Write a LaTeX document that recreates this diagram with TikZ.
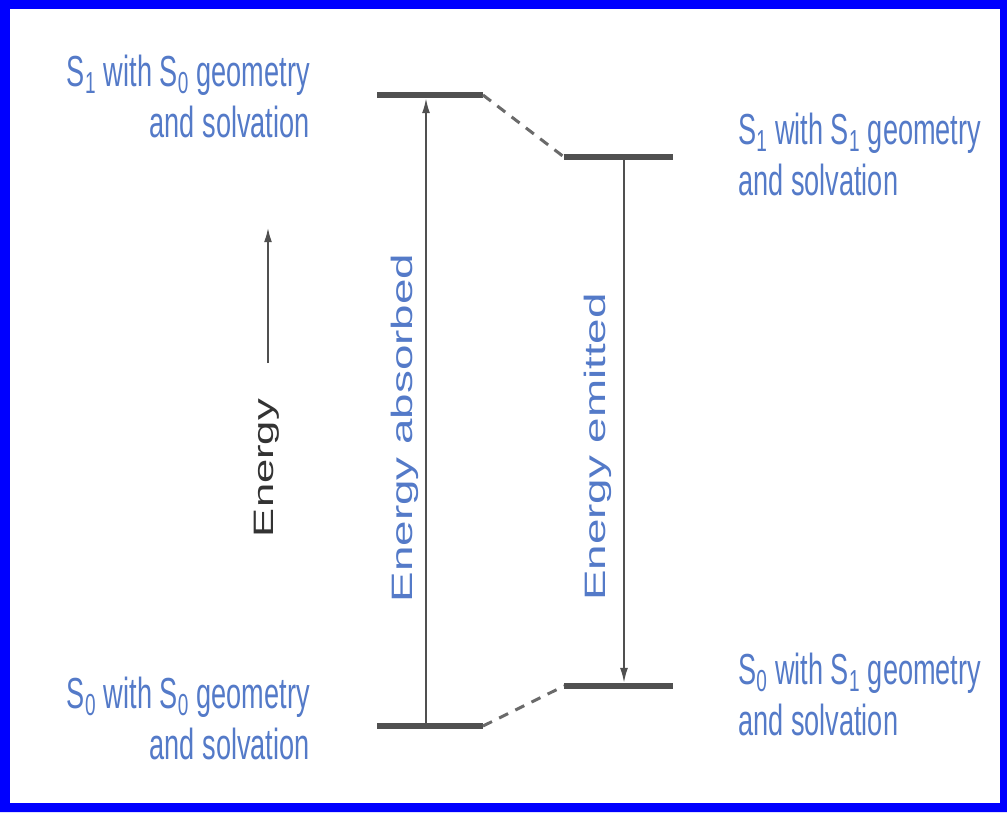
\documentclass[tikz,border=0pt]{standalone}
\usepackage{fontspec}
\setmainfont{Liberation Sans}
\usetikzlibrary{arrows.meta}
\definecolor{lblue}{RGB}{84,122,200}
\definecolor{lvl}{RGB}{80,80,80}
\definecolor{frameblue}{RGB}{0,0,255}
\newcommand{\hlabr}[2]{\scalebox{1}[1.6]{\fontsize{19.3}{23}\selectfont\begin{tabular}[t]{@{}r@{}}#1\\#2\end{tabular}}}
\newcommand{\hlabl}[2]{\scalebox{1}[1.6]{\fontsize{19.3}{23}\selectfont\begin{tabular}[t]{@{}l@{}}#1\\#2\end{tabular}}}
\newcommand{\vlab}[1]{\scalebox{1.55}[1]{\fontsize{21}{24}\selectfont #1}}
\tikzset{
  x=0.025cm, y=-0.025cm,
  level/.style={draw=lvl, line width=0.15cm},
  link/.style={draw=lvl!85, line width=0.075cm, dash pattern=on 0.25cm off 0.2cm},
  trans/.style={draw=lvl, line width=0.05cm, -{Latex[length=0.38cm,width=0.2cm]}},
  blab/.style={text=lblue, inner sep=0pt},
  vblab/.style={text=lblue, inner sep=0pt, rotate=90, anchor=base},
}
\begin{document}
\begin{tikzpicture}
\useasboundingbox (0,0) rectangle (1007,812);
\fill[frameblue, even odd rule] (0,0) rectangle (1007,812) (10,9) rectangle (1000,803);
\fill[white] (10,9) rectangle (1000,803);
% level coordinates
\coordinate (tl1) at (377,95);
\coordinate (tl2) at (483,95);
\coordinate (tr1) at (564,157);
\coordinate (tr2) at (673,157);
\coordinate (bl1) at (377,726);
\coordinate (bl2) at (483,726);
\coordinate (br1) at (564,686);
\coordinate (br2) at (673,686);
\coordinate (absB) at (426,726);
\coordinate (absT) at (426,98);
\coordinate (emT) at (624,157);
\coordinate (emB) at (624,683);
\coordinate (enB) at (268,363);
\coordinate (enT) at (268,227);
% levels
\draw[level] (tl1) -- (tl2);
\draw[level] (tr1) -- (tr2);
\draw[level] (bl1) -- (bl2);
\draw[level] (br1) -- (br2);
\draw[link] (tl2) -- (tr1);
\draw[link] (bl2) -- (br1);
% transitions
\draw[trans] (absB) -- (absT);
\draw[trans] (emT) -- (emB);
\draw[trans, line width=0.06cm] (enB) -- (enT);
% labels
\node[blab, anchor=base east] (lt) at (310,86) {\hlabr{S\textsubscript{1} with S\textsubscript{0} geometry}{and solvation}};
\node[blab, anchor=base west] (rt) at (738,144) {\hlabl{S\textsubscript{1} with S\textsubscript{1} geometry}{and solvation}};
\node[blab, anchor=base west] (rb) at (738,684) {\hlabl{S\textsubscript{0} with S\textsubscript{1} geometry}{and solvation}};
\node[blab, anchor=base east] (lb) at (310,708) {\hlabr{S\textsubscript{0} with S\textsubscript{0} geometry}{and solvation}};
\node[vblab] (eabs) at (412,428) {\vlab{Energy absorbed}};
\node[vblab] (eem) at (605,447) {\vlab{Energy emitted}};
\node[vblab, text=black!80] (en) at (273,468) {\scalebox{1.55}[1]{\fontsize{20}{24}\selectfont Energy}};
\end{tikzpicture}
\end{document}
